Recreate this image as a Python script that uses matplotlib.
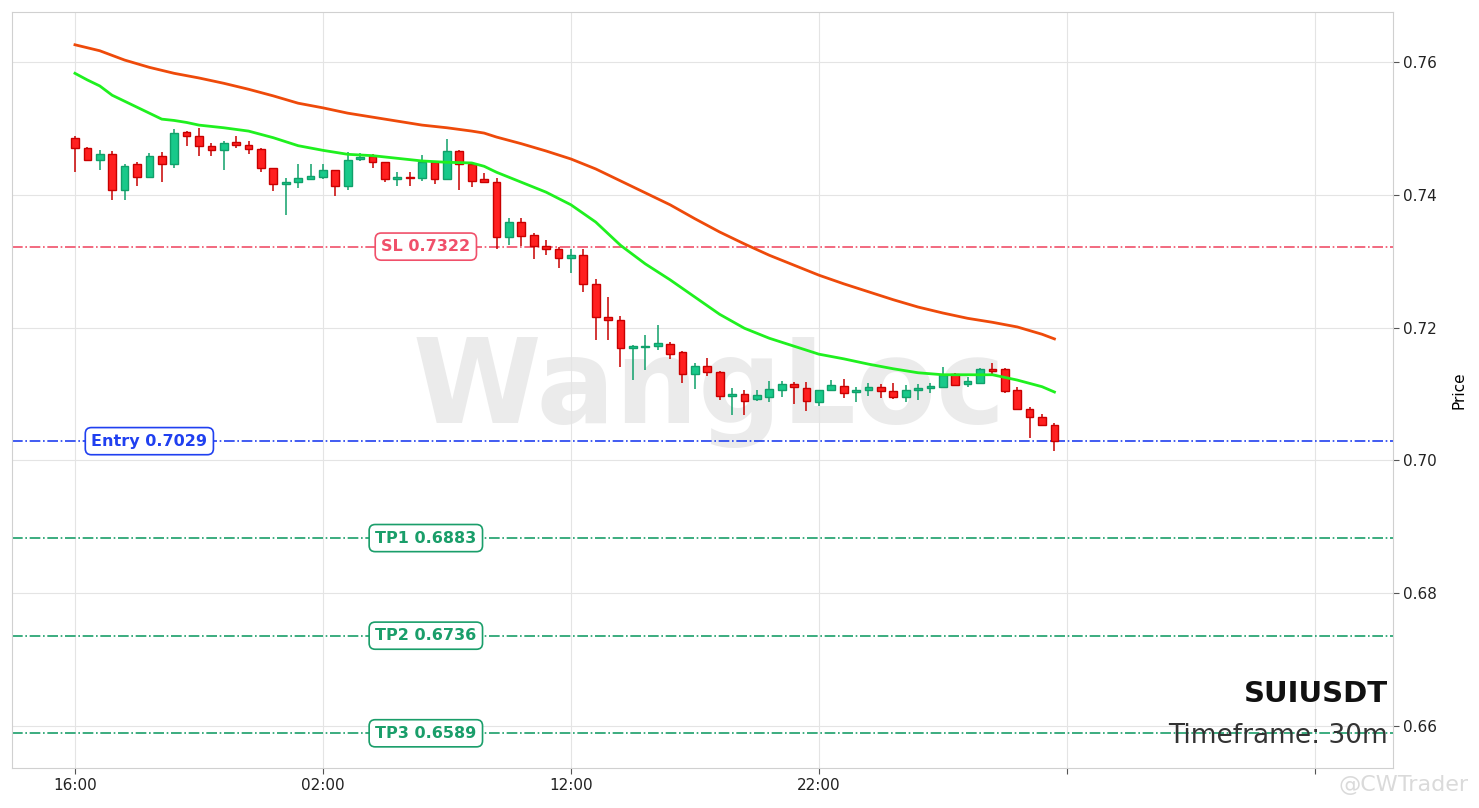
import numpy as np
import matplotlib.pyplot as plt

# 30m candles, open / high / low / close
opens = [0.7485, 0.7470, 0.7453, 0.7461, 0.7407, 0.7446, 0.7427, 0.7458, 0.7446, 0.7495,
         0.7488, 0.7473, 0.7467, 0.7479, 0.7475, 0.7469, 0.7440, 0.7417, 0.7419, 0.7424,
         0.7427, 0.7437, 0.7414, 0.7454, 0.7459, 0.7449, 0.7424, 0.7427, 0.7426, 0.7450,
         0.7424, 0.7466, 0.7446, 0.7424, 0.7420, 0.7337, 0.7359, 0.7339, 0.7323, 0.7318,
         0.7305, 0.7310, 0.7265, 0.7216, 0.7211, 0.7169, 0.7171, 0.7172, 0.7175, 0.7163,
         0.7130, 0.7142, 0.7133, 0.7097, 0.7100, 0.7092, 0.7096, 0.7106, 0.7115, 0.7109,
         0.7088, 0.7106, 0.7112, 0.7103, 0.7106, 0.7110, 0.7104, 0.7096, 0.7106, 0.7109,
         0.7111, 0.7130, 0.7115, 0.7117, 0.7138, 0.7137, 0.7106, 0.7077, 0.7066, 0.7054]
highs = [0.7488, 0.7472, 0.7467, 0.7466, 0.7446, 0.7450, 0.7463, 0.7465, 0.7499, 0.7496,
         0.7501, 0.7478, 0.7481, 0.7488, 0.7481, 0.7470, 0.7441, 0.7425, 0.7446, 0.7447,
         0.7446, 0.7437, 0.7465, 0.7463, 0.7461, 0.7450, 0.7435, 0.7434, 0.7460, 0.7451,
         0.7484, 0.7467, 0.7448, 0.7433, 0.7425, 0.7365, 0.7365, 0.7342, 0.7332, 0.7321,
         0.7319, 0.7318, 0.7273, 0.7246, 0.7218, 0.7174, 0.7189, 0.7204, 0.7178, 0.7165,
         0.7147, 0.7154, 0.7134, 0.7109, 0.7106, 0.7106, 0.7120, 0.7119, 0.7118, 0.7118,
         0.7106, 0.7121, 0.7122, 0.7110, 0.7116, 0.7115, 0.7117, 0.7113, 0.7115, 0.7117,
         0.7141, 0.7131, 0.7125, 0.7139, 0.7147, 0.7139, 0.7111, 0.7081, 0.7070, 0.7057]
lows = [0.7434, 0.7451, 0.7437, 0.7392, 0.7392, 0.7413, 0.7425, 0.7420, 0.7440, 0.7474,
        0.7458, 0.7458, 0.7437, 0.7470, 0.7461, 0.7434, 0.7406, 0.7370, 0.7411, 0.7424,
        0.7424, 0.7398, 0.7407, 0.7451, 0.7441, 0.7419, 0.7413, 0.7414, 0.7421, 0.7416,
        0.7422, 0.7407, 0.7412, 0.7419, 0.7318, 0.7324, 0.7323, 0.7303, 0.7309, 0.7290,
        0.7282, 0.7253, 0.7182, 0.7181, 0.7140, 0.7121, 0.7136, 0.7166, 0.7153, 0.7117,
        0.7108, 0.7127, 0.7091, 0.7068, 0.7068, 0.7090, 0.7088, 0.7096, 0.7085, 0.7075,
        0.7082, 0.7106, 0.7094, 0.7088, 0.7097, 0.7094, 0.7092, 0.7088, 0.7091, 0.7102,
        0.7111, 0.7113, 0.7110, 0.7117, 0.7130, 0.7102, 0.7076, 0.7033, 0.7052, 0.7014]
closes = [0.7470, 0.7453, 0.7461, 0.7407, 0.7444, 0.7427, 0.7458, 0.7446, 0.7493, 0.7488,
          0.7473, 0.7467, 0.7478, 0.7475, 0.7469, 0.7440, 0.7417, 0.7419, 0.7425, 0.7428,
          0.7437, 0.7414, 0.7453, 0.7457, 0.7449, 0.7424, 0.7427, 0.7426, 0.7450, 0.7424,
          0.7466, 0.7446, 0.7421, 0.7420, 0.7337, 0.7359, 0.7338, 0.7323, 0.7318, 0.7305,
          0.7310, 0.7265, 0.7216, 0.7211, 0.7169, 0.7172, 0.7173, 0.7177, 0.7161, 0.7130,
          0.7142, 0.7133, 0.7097, 0.7100, 0.7090, 0.7098, 0.7107, 0.7115, 0.7110, 0.7089,
          0.7106, 0.7113, 0.7101, 0.7106, 0.7111, 0.7105, 0.7096, 0.7106, 0.7109, 0.7112,
          0.7129, 0.7114, 0.7119, 0.7137, 0.7135, 0.7105, 0.7077, 0.7066, 0.7053, 0.7029]

# moving averages (candle index, price)
ma_fast_idx = [0, 1, 2, 3, 4, 5, 6, 7, 8, 9, 10, 12, 14, 16, 18, 20, 22, 24, 26, 28, 30, 32, 33,
               34, 36, 38, 40, 42, 44, 46, 48, 50, 52, 54, 56, 58, 60, 62, 64, 66, 68, 70, 72,
               74, 76, 78, 79]
ma_fast = [0.7583, 0.7573, 0.7564, 0.7550, 0.7541, 0.7532, 0.7523, 0.7514, 0.7512, 0.7509,
           0.7505, 0.7501, 0.7496, 0.7486, 0.7474, 0.7467, 0.7461, 0.7459, 0.7455, 0.7451,
           0.7449, 0.7448, 0.7443, 0.7434, 0.7419, 0.7404, 0.7385, 0.7359, 0.7324, 0.7296,
           0.7272, 0.7246, 0.7220, 0.7199, 0.7184, 0.7172, 0.7160, 0.7153, 0.7145, 0.7138,
           0.7132, 0.7129, 0.7129, 0.7129, 0.7121, 0.7111, 0.7103]
ma_slow_idx = [0, 2, 4, 6, 8, 10, 12, 14, 16, 18, 20, 22, 24, 26, 28, 30, 32, 33, 34, 36, 38,
               40, 42, 44, 46, 48, 50, 52, 54, 56, 58, 60, 62, 64, 66, 68, 70, 72, 74, 76, 78, 79]
ma_slow = [0.7626, 0.7617, 0.7603, 0.7592, 0.7583, 0.7576, 0.7568, 0.7559, 0.7549, 0.7538,
           0.7531, 0.7523, 0.7517, 0.7511, 0.7505, 0.7501, 0.7496, 0.7493, 0.7487, 0.7477,
           0.7466, 0.7454, 0.7439, 0.7421, 0.7403, 0.7385, 0.7364, 0.7344, 0.7326, 0.7309,
           0.7294, 0.7279, 0.7266, 0.7254, 0.7242, 0.7231, 0.7222, 0.7214, 0.7208, 0.7201,
           0.7190, 0.7183]

levels = [('SL', 0.7322), ('Entry', 0.7029), ('TP1', 0.6883), ('TP2', 0.6736), ('TP3', 0.6589)]
level_colors = ['#f0506a', '#2040f0', '#1a9e6a', '#1a9e6a', '#1a9e6a']
level_label_x = [28.3, 6.0, 28.3, 28.3, 28.3]

xtick_pos = [0, 20, 40, 60, 80, 100]
xtick_labels = ['16:00', '02:00', '12:00', '22:00', '', '']

symbol = 'SUIUSDT'
timeframe = '30m'

up_col, up_edge = '#18c98a', '#10a06a'
dn_col, dn_edge = '#ff2020', '#c80000'

fig = plt.figure(figsize=(14.79, 8.08), dpi=100)
ax = fig.add_axes([0.0081, 0.0495, 0.9337, 0.9356])

ax.text(0.5045, 0.5, 'WangLoc', transform=ax.transAxes, fontsize=84, fontweight='bold',
        color='#e8e8e8', alpha=0.85, ha='center', va='center', zorder=0)

x = np.arange(len(opens))
o = np.array(opens)
c = np.array(closes)
up = c >= o
body_low = np.minimum(o, c)
body_h = np.maximum(np.abs(c - o), 0.00012)
cols = np.where(up, up_col, dn_col)
edges = np.where(up, up_edge, dn_edge)
ax.vlines(x, lows, highs, colors=edges, linewidth=1.1, zorder=2)
ax.bar(x, body_h, bottom=body_low, width=0.62, color=cols, edgecolor=edges,
       linewidth=1.0, zorder=3)

ax.plot(ma_slow_idx, ma_slow, color='#ee4a0a', linewidth=2.0, zorder=4)
ax.plot(ma_fast_idx, ma_fast, color='#1ff01f', linewidth=2.0, zorder=4)

for (name, val), col, lx in zip(levels, level_colors, level_label_x):
    ax.axhline(val, color=col, linestyle='-.', linewidth=1.2, zorder=1)
    ax.text(lx, val, f'{name} {val:.4f}', color=col, fontsize=11.5, fontweight='bold',
            ha='center', va='center', zorder=5,
            bbox=dict(boxstyle='round,pad=0.38', facecolor='white', edgecolor=col, linewidth=1.2))

ax.set_xlim(-5.08, 106.3)
ax.set_ylim(0.65367, 0.76753)
ax.set_xticks(xtick_pos)
ax.set_xticklabels(xtick_labels, fontsize=11)
ax.set_yticks([0.66, 0.68, 0.70, 0.72, 0.74, 0.76])
ax.set_yticklabels(['0.66', '0.68', '0.70', '0.72', '0.74', '0.76'], fontsize=11)
ax.yaxis.tick_right()
ax.yaxis.set_label_position('right')
ax.set_ylabel('Price', fontsize=11, labelpad=10)
ax.tick_params(axis='both', colors='#222222', length=4, color='#555555')
ax.grid(True, color='#e4e4e4', linewidth=0.8)
ax.set_axisbelow(True)
for s in ax.spines.values():
    s.set_color('#d0d0d0')

ax.text(0.9965, 0.098, symbol, transform=ax.transAxes, fontsize=21, fontweight='bold',
        color='#111111', ha='right', va='center', zorder=6)
ax.text(0.9965, 0.042, f'Timeframe: {timeframe}', transform=ax.transAxes, fontsize=19,
        color='#333333', ha='right', va='center', zorder=6)

fig.text(0.993, 0.028, '@CWTrader', fontsize=16, color='#dadada', ha='right', va='center')

fig.savefig('out.png', dpi=100)
